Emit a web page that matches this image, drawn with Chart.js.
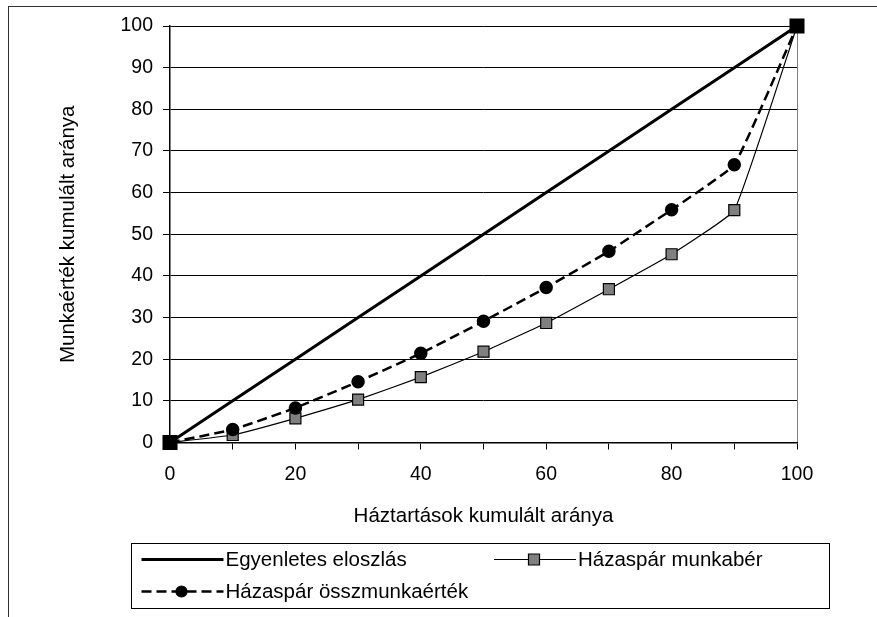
<!DOCTYPE html>
<html lang="hu">
<head>
    <meta charset="UTF-8">
    <title>Munkaérték kumulált aránya</title>
    <style>
        body { margin: 0; background: #fff; }
        #wrap { position: relative; width: 877px; height: 617px; overflow: hidden; }
        #frame {
            position: absolute; left: 8px; top: 6px; width: 950px; height: 700px;
            border-left: 1.5px solid #333; border-top: 1.5px solid #333;
        }
        canvas { position: absolute; left: 0; top: 0; }
    </style>
    <script src="https://cdn.jsdelivr.net/npm/chart.js@4.4.0/dist/chart.umd.min.js"></script>
</head>
<body>
<div id="wrap">
    <div id="frame"></div>
    <canvas id="lorenz" width="877" height="617"></canvas>
</div>
<script>
// háztartások kumulált aránya (%)
const haztartasok = [0, 10, 20, 30, 40, 50, 60, 70, 80, 90, 100];
const egyenletes  = [0, 10, 20, 30, 40, 50, 60, 70, 80, 90, 100];
const munkaber    = [0, 1.8, 5.8, 10.3, 15.7, 21.8, 28.7, 36.8, 45.2, 55.8, 100];
const osszmunka   = [0, 3.1, 8.3, 14.6, 21.4, 29.1, 37.2, 45.9, 55.9, 66.7, 100];

const FONT = "'Liberation Sans', Arial, sans-serif";

function pts(ys) {
    return haztartasok.map((x, i) => ({ x: x, y: ys[i] }));
}

// legend drawn like the Excel box under the chart
const legendBox = {
    id: 'legendBox',
    afterDraw(chart) {
        const ctx = chart.ctx;
        const ds = chart.data.datasets;
        ctx.save();
        ctx.strokeStyle = '#000';
        ctx.lineWidth = 1;
        ctx.strokeRect(131.5, 543.5, 698, 65);

        const items = [
            { d: ds[0], x: 141.5, y: 559.5 },
            { d: ds[1], x: 494, y: 559.5 },
            { d: ds[2], x: 141.5, y: 591.5 }
        ];
        items.forEach(it => {
            const d = it.d;
            ctx.strokeStyle = d.borderColor;
            ctx.lineWidth = d.borderWidth;
            ctx.setLineDash(d.borderDash || []);
            ctx.beginPath();
            ctx.moveTo(it.x, it.y);
            ctx.lineTo(it.x + 82, it.y);
            ctx.stroke();
            ctx.setLineDash([]);
            if (d.legendMarker) {
                ctx.fillStyle = d.pointBackgroundColor;
                ctx.strokeStyle = d.pointBorderColor;
                ctx.lineWidth = 1.2;
                Chart.helpers.drawPoint(ctx, {
                    pointStyle: d.pointStyle, radius: d.legendRadius, rotation: 0, borderWidth: 1.2
                }, it.x + 40, it.y);
            }
            ctx.fillStyle = '#000';
            ctx.font = '20.5px ' + FONT;
            ctx.textBaseline = 'middle';
            ctx.textAlign = 'left';
            ctx.fillText(d.label, it.x + 84, it.y + 1);
        });
        ctx.restore();
    }
};

new Chart(document.getElementById('lorenz'), {
    type: 'line',
    data: {
        datasets: [{
            label: 'Egyenletes eloszlás',
            data: pts(egyenletes),
            borderColor: '#000',
            borderWidth: 3,
            clip: false,
            pointStyle: 'rect',
            pointRadius: haztartasok.map((x, i) => (i === 0 || i === haztartasok.length - 1) ? 8.5 : 0),
            pointBackgroundColor: '#000',
            pointBorderColor: '#000',
            legendMarker: false,
            order: 0
        }, {
            label: 'Házaspár munkabér',
            data: pts(munkaber),
            borderColor: '#000',
            borderWidth: 1.2,
            tension: 0.1,
            pointStyle: 'rect',
            pointRadius: 7.8,
            pointBorderWidth: 1.2,
            pointBackgroundColor: '#808080',
            pointBorderColor: '#000',
            legendMarker: true,
            legendRadius: 7.8,
            order: 2
        }, {
            label: 'Házaspár összmunkaérték',
            data: pts(osszmunka),
            borderColor: '#000',
            borderWidth: 2.5,
            borderDash: [10, 5],
            tension: 0.1,
            pointStyle: 'circle',
            pointRadius: 5.5,
            pointBackgroundColor: '#000',
            pointBorderColor: '#000',
            legendMarker: true,
            legendRadius: 5.5,
            order: 1
        }]
    },
    options: {
        responsive: false,
        animation: false,
        devicePixelRatio: 1,
        layout: { padding: { left: 56, right: 80, top: 26, bottom: 88 } },
        plugins: { legend: { display: false }, tooltip: { enabled: false } },
        scales: {
            x: {
                type: 'linear',
                min: 0, max: 100,
                afterFit: s => { s.height = 86.5; },
                ticks: {
                    stepSize: 10,
                    padding: 13,
                    maxRotation: 0,
                    autoSkip: false,
                    color: '#000',
                    font: { family: FONT, size: 19.5 },
                    callback: v => (v % 20 === 0 ? v : '')
                },
                grid: {
                    color: c => (c.tick && c.tick.value === 100 ? '#808080' : 'rgba(0,0,0,0)'),
                    tickColor: '#000',
                    tickLength: 7,
                    lineWidth: 1
                },
                border: { color: '#000', width: 1.5 },
                title: {
                    display: true,
                    text: 'Háztartások kumulált aránya',
                    color: '#000',
                    padding: 0,
                    font: { family: FONT, size: 20.5 }
                }
            },
            y: {
                min: 0, max: 100,
                afterFit: s => { s.width = 114; },
                ticks: {
                    stepSize: 10,
                    padding: 10,
                    color: '#000',
                    font: { family: FONT, size: 19.5 }
                },
                grid: {
                    color: '#000',
                    tickColor: '#000',
                    tickLength: 7,
                    lineWidth: 1
                },
                border: { color: '#000', width: 1.5 },
                title: {
                    display: true,
                    text: 'Munkaérték kumulált aránya',
                    color: '#000',
                    padding: 0,
                    font: { family: FONT, size: 20.5 }
                }
            }
        }
    },
    plugins: [legendBox]
});
</script>
</body>
</html>
